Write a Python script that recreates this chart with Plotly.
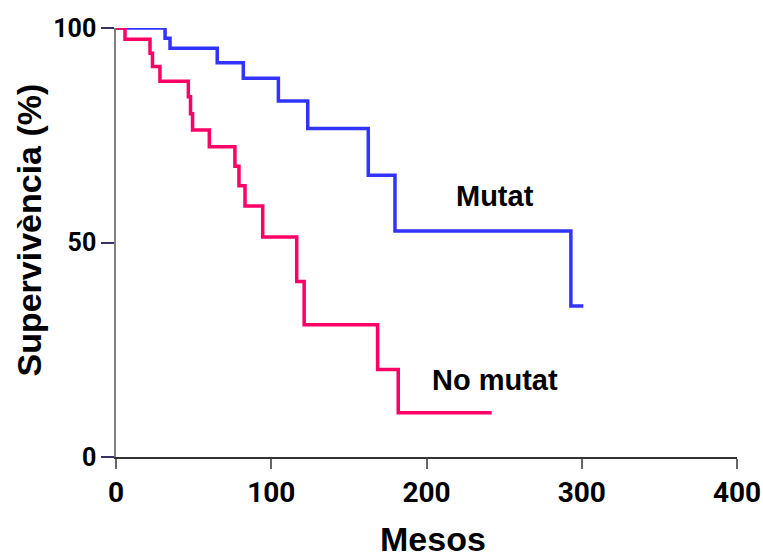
import plotly.graph_objects as go

# Kaplan-Meier step data (months, survival %)
mutat_t = [0, 31.6, 34.8, 65.2, 82, 104.6, 123.5, 162.5, 179.7, 293, 301]
mutat_s = [100, 97.6, 95.3, 91.9, 88.3, 83.0, 76.6, 65.7, 52.7, 35.2, 35.2]

nomutat_t = [0, 5.8, 21.9, 23.5, 28.3, 46.6, 48, 49.3, 60.1, 76.6, 79.2, 83.1, 94.5, 116.4, 121.2, 168.5, 181.8, 242]
nomutat_s = [100, 97.4, 94.1, 91.0, 87.6, 84.0, 80.0, 76.2, 72.3, 67.8, 63.2, 58.5, 51.3, 40.9, 30.8, 20.4, 10.3, 10.3]

x_ticks = [0, 100, 200, 300, 400]
y_ticks = [0, 50, 100]

labels = ["Mutat", "No mutat"]
label_x = [244, 244]
label_y = [60.9, 18.0]

x_title = "Mesos"
y_title = "Supervivència (%)"

fig = go.Figure()
fig.add_trace(go.Scatter(x=mutat_t, y=mutat_s, mode="lines", line_shape="hv",
                         line=dict(color="#3333FF", width=3.5), cliponaxis=False, name="Mutat"))
fig.add_trace(go.Scatter(x=nomutat_t, y=nomutat_s, mode="lines", line_shape="hv",
                         line=dict(color="#FF0066", width=3.5), cliponaxis=False, name="No mutat"))

for txt, xx, yy in zip(labels, label_x, label_y):
    fig.add_annotation(x=xx, y=yy, text="<b>%s</b>" % txt, showarrow=False,
                       font=dict(family="Liberation Sans, Arial", size=29, color="black"))

# axis titles placed as annotations for precise positioning
fig.add_annotation(xref="paper", yref="paper", x=-0.140, y=0.528, text="<b>%s</b>" % y_title,
                   textangle=-90, showarrow=False, xanchor="center", yanchor="middle",
                   font=dict(family="Liberation Sans, Arial", size=34, color="black"))
fig.add_annotation(xref="paper", yref="paper", x=0.5105, y=-0.191, text="<b>%s</b>" % x_title,
                   showarrow=False, xanchor="center", yanchor="middle",
                   font=dict(family="Liberation Sans, Arial", size=34, color="black"))

tickfam = "Roboto"
fig.update_layout(
    template="none",
    width=763, height=558,
    margin=dict(l=116, r=26, t=28, b=101),
    paper_bgcolor="white", plot_bgcolor="white",
    showlegend=False,
    xaxis=dict(range=[0, 400], tickvals=x_ticks, ticktext=["<b>%d</b>" % v for v in x_ticks],
               automargin=False, ticklabeloverflow="allow",
               showgrid=False, zeroline=False, showline=True, linecolor="#333333", linewidth=1.5,
               ticks="outside", ticklen=10, tickcolor="#666666", tickwidth=1.5,
               tickfont=dict(family=tickfam, size=28, color="black")),
    yaxis=dict(range=[0, 100], tickvals=y_ticks, ticktext=["<b>%d</b>" % v for v in y_ticks],
               automargin=False,
               showgrid=False, zeroline=False, showline=True, linecolor="#808080", linewidth=1.5,
               ticks="outside", ticklen=13, tickcolor="#333366", tickwidth=1.5,
               tickfont=dict(family=tickfam, size=25, color="black")),
)

fig.write_html("out.html", config={"displayModeBar": False},
               post_script="document.body.style.margin='0';document.body.style.overflow='hidden';")
